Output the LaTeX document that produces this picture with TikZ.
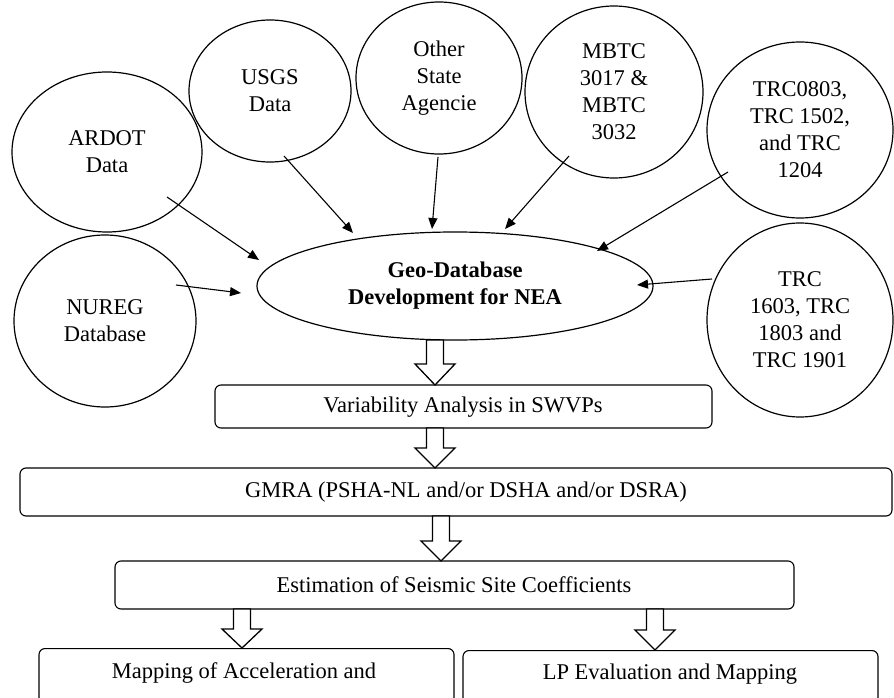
\documentclass[tikz,border=0pt]{standalone}
\usepackage{fontspec}
\setmainfont{Liberation Serif}
\usetikzlibrary{shapes.geometric,arrows.meta}
\newcommand\diafont{\fontsize{22.5}{27}\selectfont}
\newcommand\blockarr[4]{% x, ytop, yhead, ytip
  \draw[blockarrow] (#1-8.5,#2) -- (#1+8.5,#2) -- (#1+8.5,#3) -- (#1+20,#3) -- (#1,#4) -- (#1-20,#3) -- (#1-8.5,#3) -- cycle;}
\begin{document}
\begin{tikzpicture}[x=1pt,y=-1pt,
  src/.style={draw,ellipse,line width=1.2pt,inner sep=0pt,align=center,font=\diafont},
  stepbox/.style={draw,rounded corners=6pt,line width=1.1pt,inner sep=0pt},
  lbl/.style={font=\diafont,inner sep=0pt},
  conn/.style={line width=1.1pt,-{Triangle[length=11pt,width=9pt]}},
  blockarrow/.style={draw,line width=1.3pt,fill=white,line join=miter}]
\clip (0,0) rectangle (894,698);
% source ellipses
\node[src,minimum width=190pt,minimum height=160pt] (ardot) at (107,152) {ARDOT\\Data};
\node[src,minimum width=162pt,minimum height=142pt] (usgs) at (270,91) {USGS\\Data};
\node[src,minimum width=166pt,minimum height=152pt] (other) at (439,78) {Other\\State\\Agencie};
\node[src,minimum width=178pt,minimum height=172pt] (mbtc) at (614,92) {MBTC\\3017 \&\\MBTC\\3032};
\node[src,minimum width=186pt,minimum height=176pt] (trca) at (800,130) {TRC0803,\\TRC 1502,\\and TRC\\1204};
\node[src,minimum width=182pt,minimum height=172pt] (nureg) at (105,321) {NUREG\\Database};
\node[src,minimum width=186pt,minimum height=194pt] (trcb) at (800,320) {TRC\\1603, TRC\\1803 and\\TRC 1901};
\node[src,minimum width=396pt,minimum height=108pt] (geo) at (455,286) {\textbf{Geo-Database}\\\textbf{Development for NEA}};
% connector end points
\coordinate (a1) at (167,197); \coordinate (a2) at (259,260);
\coordinate (n1) at (176,285); \coordinate (n2) at (241,293);
\coordinate (u1) at (284,156); \coordinate (u2) at (353,233);
\coordinate (o1) at (438,157); \coordinate (o2) at (432,229);
\coordinate (m1) at (569,156); \coordinate (m2) at (505,229);
\coordinate (t1) at (728,172); \coordinate (t2) at (597,251);
\coordinate (r1) at (712,279); \coordinate (r2) at (637,285);
\draw[conn] (a1) -- (a2);
\draw[conn] (n1) -- (n2);
\draw[conn] (u1) -- (u2);
\draw[conn] (o1) -- (o2);
\draw[conn] (m1) -- (m2);
\draw[conn] (t1) -- (t2);
\draw[conn] (r1) -- (r2);
% process boxes
\node[stepbox,minimum width=497pt,minimum height=43pt] (var) at (463.5,406.5) {};
\node[lbl] (varT) at (463,407) {Variability Analysis in SWVPs};
\node[stepbox,minimum width=872pt,minimum height=48pt] (gmra) at (456,492) {};
\node[lbl] (gmraT) at (466,492) {GMRA (PSHA-NL and/or DSHA and/or DSRA)};
\node[stepbox,minimum width=679pt,minimum height=48pt] (est) at (454.5,585) {};
\node[lbl] (estT) at (454,585) {Estimation of Seismic Site Coefficients};
\node[stepbox,minimum width=415pt,minimum height=92pt,anchor=north] (map) at (246.5,648) {};
\node[lbl] (mapT) at (244,673) {Mapping of Acceleration and};
\node[stepbox,minimum width=415pt,minimum height=92pt,anchor=north] (lp) at (670.5,650) {};
\node[lbl] (lpT) at (670,674) {LP Evaluation and Mapping};
% block arrows
\blockarr{435}{340}{364}{385}
\blockarr{435}{428}{448}{468}
\blockarr{441}{516}{541}{561}
\blockarr{242}{609}{629}{648}
\blockarr{655}{609}{630}{650}
\end{tikzpicture}
\end{document}
